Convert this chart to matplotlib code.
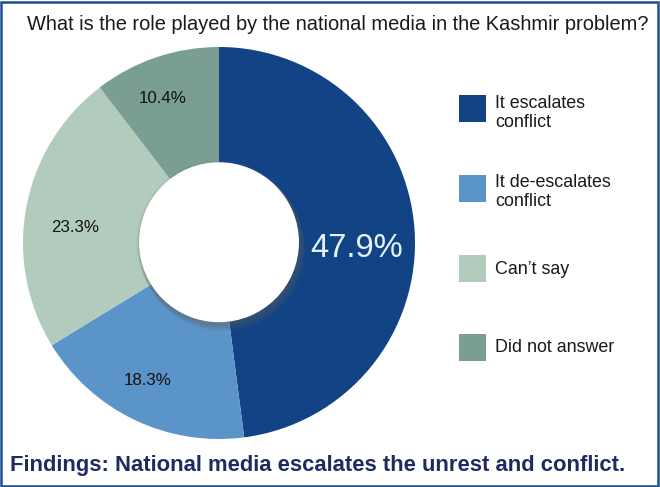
import numpy as np
import matplotlib.pyplot as plt
from matplotlib.patches import Circle, Rectangle

categories = ["It escalates\nconflict", "It de-escalates\nconflict", "Can\u2019t say", "Did not answer"]
values = [47.9, 18.3, 23.3, 10.4]
labels = ["47.9%", "18.3%", "23.3%", "10.4%"]
colors = ["#124485", "#5b94c8", "#b1cbbc", "#7a9e94"]

title = "What is the role played by the national media in the Kashmir problem?"
footer = "Findings: National media escalates the unrest and conflict."

plt.rcParams['font.family'] = ['Liberation Sans', 'DejaVu Sans']

W, H = 660, 487
fig = plt.figure(figsize=(W / 100, H / 100), dpi=100)

# pie axes placed by pixel centre / radius
cx, cy, r = 219, 243, 196
ax = fig.add_axes([(cx - r) / W, (H - cy - r) / H, 2 * r / W, 2 * r / H])
wedges, _ = ax.pie(values, colors=colors, startangle=90, counterclock=False,
                   radius=1.0, wedgeprops=dict(linewidth=0))
ax.set_aspect("equal")
ax.set_xlim(-1, 1)
ax.set_ylim(-1, 1)
ax.axis("off")

# hole with a soft shadow at the bottom
hole = 0.42
for k in range(6):
    ax.add_patch(Circle((0.004 * k, -0.006 * k), hole, color="#606060", alpha=0.09, lw=0, zorder=3))
ax.add_patch(Circle((0, 0.004), hole - 0.012, color="white", lw=0, zorder=4))

# label radius and angular nudge (deg) from each wedge middle
dist = [0.70, 0.79, 0.74, 0.79]
nudge = [-5.9, -1.9, 4.4, 2.6]
for w, lab, d, n in zip(wedges, labels, dist, nudge):
    mid = np.deg2rad((w.theta1 + w.theta2) / 2 + n)
    x, y = d * np.cos(mid), d * np.sin(mid)
    if lab == labels[0]:
        ax.text(x, y, lab, color="#e6f3fb", fontsize=23.5, ha="center", va="center", zorder=5)
    else:
        ax.text(x, y, lab, color="#111111", fontsize=12.2, ha="center", va="center", zorder=5)

fig.text(27 / W, 1 - 25 / H, title, fontsize=14.4, color="#1a1a1a", ha="left", va="center")
fig.text(10 / W, 1 - 465 / H, footer, fontsize=15.8, fontweight="bold", color="#1f2a60",
         ha="left", va="center")

# legend drawn by hand
sq = 27
ys = [109, 188, 268, 347]
for c, lab, yc in zip(colors, categories, ys):
    fig.patches.append(Rectangle((459 / W, 1 - (yc + sq / 2) / H), sq / W, sq / H,
                                 transform=fig.transFigure, facecolor=c, edgecolor="none"))
    ty = yc + 4 if "\n" in lab else yc + 1
    fig.text(495 / W, 1 - ty / H, lab, fontsize=12.9, color="#1a1a1a", ha="left",
             va="center", linespacing=1.15)

# frame
fig.patches.append(Rectangle((1 / W, 1 / H), (W - 3) / W, (H - 3) / H, transform=fig.transFigure,
                             fill=False, edgecolor="#1d4e8f", linewidth=1.8))

fig.savefig("out.png", dpi=100)
